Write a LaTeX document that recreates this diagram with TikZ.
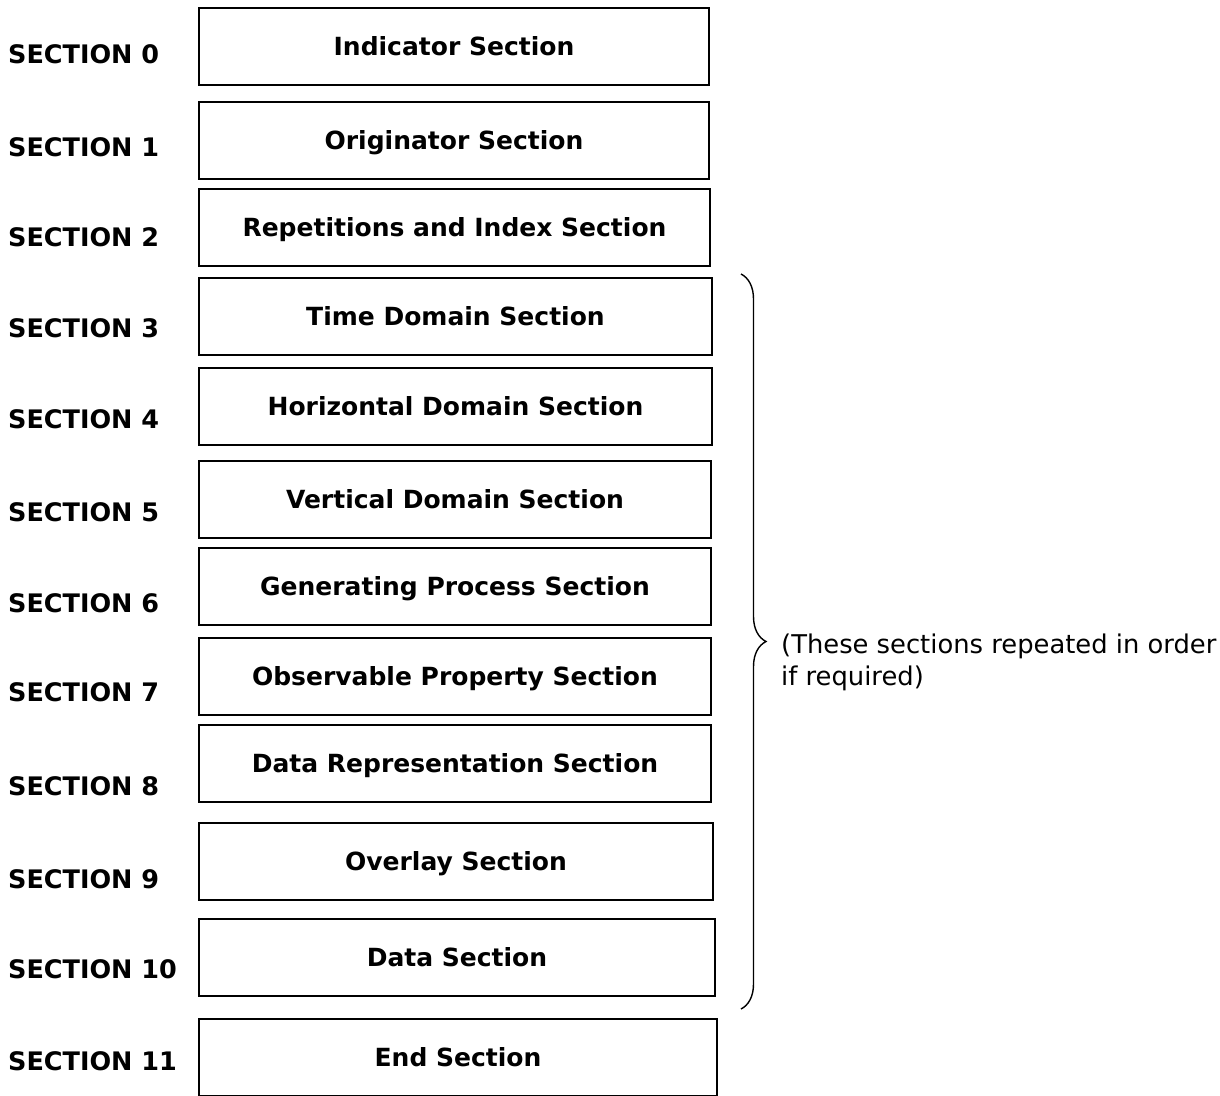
\documentclass[tikz,border=0pt]{standalone}
\usepackage{fontspec}
\setmainfont{DejaVu Sans}
\usetikzlibrary{decorations.pathreplacing}

\tikzset{
  secbox/.style={draw, line width=1.7pt, inner sep=0pt, outer sep=0pt,
    minimum height=77pt, anchor=north west, text height=18pt, text depth=0pt,
    font=\fontsize{25}{30}\selectfont\bfseries},
  seclab/.style={anchor=base west, inner sep=0pt,
    font=\fontsize{25.5}{30}\selectfont\bfseries},
  note/.style={anchor=west, align=left, inner sep=0pt,
    font=\fontsize{25.8}{32}\selectfont},
  curly/.style={decorate, decoration={brace, amplitude=25pt}, line width=1.4pt}
}

\begin{document}
\begin{tikzpicture}[x=1pt,y=-1pt]
  \useasboundingbox (0,0) rectangle (1220,1095);
  \clip (0,0) rectangle (1220,1095);
  % number / top / width / label baseline / box text
  \foreach \n/\t/\w/\b/\txt in {0/8/510/63/Indicator Section,
      1/102/510/156/Originator Section,
      2/189/511/246/Repetitions and Index Section,
      3/278/513/337/Time Domain Section,
      4/368/513/428/Horizontal Domain Section,
      5/461/512/521/Vertical Domain Section,
      6/548/512/612/Generating Process Section,
      7/638/512/701/Observable Property Section,
      8/725/512/795/Data Representation Section,
      9/823/514/888/Overlay Section,
      10/919/516/978/Data Section,
      11/1019/518/1070/End Section}
  {
    \node[secbox, minimum width=\w pt] (box\n) at (199,\t) {\txt};
    \node[seclab] (lab\n) at (8,\b) {SECTION \n};
  }
  % brace over sections 3 to 10
  \coordinate (bracetop) at (741,274);
  \coordinate (bracebot) at (741,1009);
  \draw[curly] (bracetop) -- (bracebot);
  \node[note] (note) at (781,662) {(These sections repeated in order\\if required)};
\end{tikzpicture}
\end{document}
